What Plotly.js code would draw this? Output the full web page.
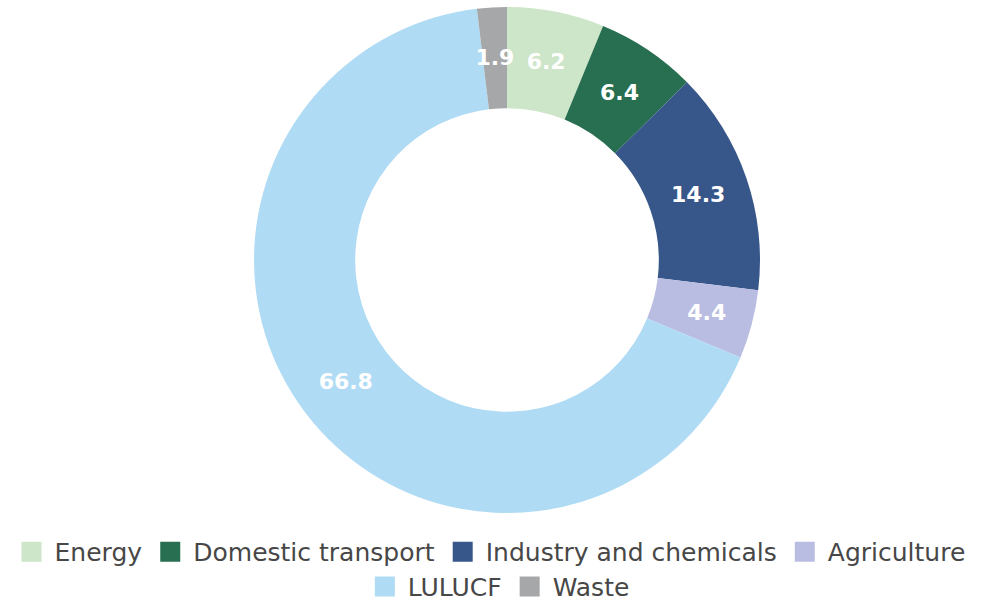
<!DOCTYPE html>
<html><head><meta charset="utf-8">
<script src="https://cdn.plot.ly/plotly-3.0.1.min.js"></script>
<style>html,body{margin:0;padding:0;background:#fff}#chart{width:981px;height:603px}</style>
</head><body><div id="chart"></div>
<script>
const categories = ["Energy", "Domestic transport", "Industry and chemicals", "Agriculture", "LULUCF", "Waste"];
const values = [6.2, 6.4, 14.3, 4.4, 66.8, 1.9];
const colors = ["#cde5c8", "#276f50", "#37578a", "#babde2", "#b0dbf5", "#a6a7a9"];
const legendRow = ["legend", "legend", "legend", "legend", "legend2", "legend2"];
// which label ring carries each slice's value label (thin ring for the very thin slice)
const labelRing = ["wide", "wide", "wide", "wide", "wide", "thin"];

const domX = [33 / 981, 1];
// ring of the donut
const ringTrace = {
  type: "pie", labels: categories, values: values,
  sort: false, direction: "clockwise", rotation: 0, hole: 0.6,
  domain: {x: domX, y: [0, 1]},
  marker: {colors: colors, line: {width: 0}},
  textinfo: "none", showlegend: false, hoverinfo: "label+value"
};
// transparent copies of the slices that carry the value labels at mid-ring
function labelTrace(kind, hole, domainY) {
  return {
    type: "pie", labels: categories, values: values,
    sort: false, direction: "clockwise", rotation: 0, hole: hole,
    domain: {x: domX, y: domainY},
    marker: {colors: categories.map(() => "rgba(0,0,0,0)"), line: {width: 0}},
    texttemplate: labelRing.map(k => k === kind ? "%{value:.1f}" : ""),
    textposition: "inside", insidetextorientation: "horizontal",
    textfont: {family: "DejaVu Sans", size: 22, color: "#ffffff", weight: "bold"},
    showlegend: false, hoverinfo: "skip"
  };
}
const wideLabels = labelTrace("wide", 0.72, [0.0356, 0.9644]);
const thinLabels = labelTrace("thin", 0.884, [0.0751, 0.9249]);

// legend entries (two rows, like the original)
const legendTraces = categories.map((c, i) => ({
  type: "scatter", mode: "markers", x: [null], y: [null], name: c,
  marker: {symbol: "square", size: 16, color: colors[i], line: {width: 0}},
  legend: legendRow[i], showlegend: true, hoverinfo: "skip"
}));

const legendFont = {family: "DejaVu Sans", size: 25, color: "#474747"};
const layout = {
  width: 981, height: 603,
  margin: {l: 0, r: 0, t: 7, b: 90, autoexpand: false},
  showlegend: true,
  uniformtext: {mode: "show", minsize: 22},
  xaxis: {visible: false}, yaxis: {visible: false},
  legend: {orientation: "h", xref: "container", yref: "container", x: 0.499, xanchor: "center",
    y: 0.0846, yanchor: "middle", font: legendFont, traceorder: "normal", itemclick: false,
    itemwidth: 36, bgcolor: "rgba(0,0,0,0)"},
  legend2: {orientation: "h", xref: "container", yref: "container", x: 0.508, xanchor: "center",
    y: 0.027, yanchor: "middle", font: legendFont, traceorder: "normal", itemclick: false,
    itemwidth: 36, bgcolor: "rgba(0,0,0,0)"},
  paper_bgcolor: "#ffffff", plot_bgcolor: "#ffffff"
};
Plotly.newPlot("chart", [ringTrace, wideLabels, thinLabels].concat(legendTraces), layout,
  {displayModeBar: false, staticPlot: true}).then(() => {
  document.querySelectorAll(".legendpoints path").forEach(p => p.setAttribute("d", "M10,10H-10V-10H10Z"));
});
</script></body></html>
